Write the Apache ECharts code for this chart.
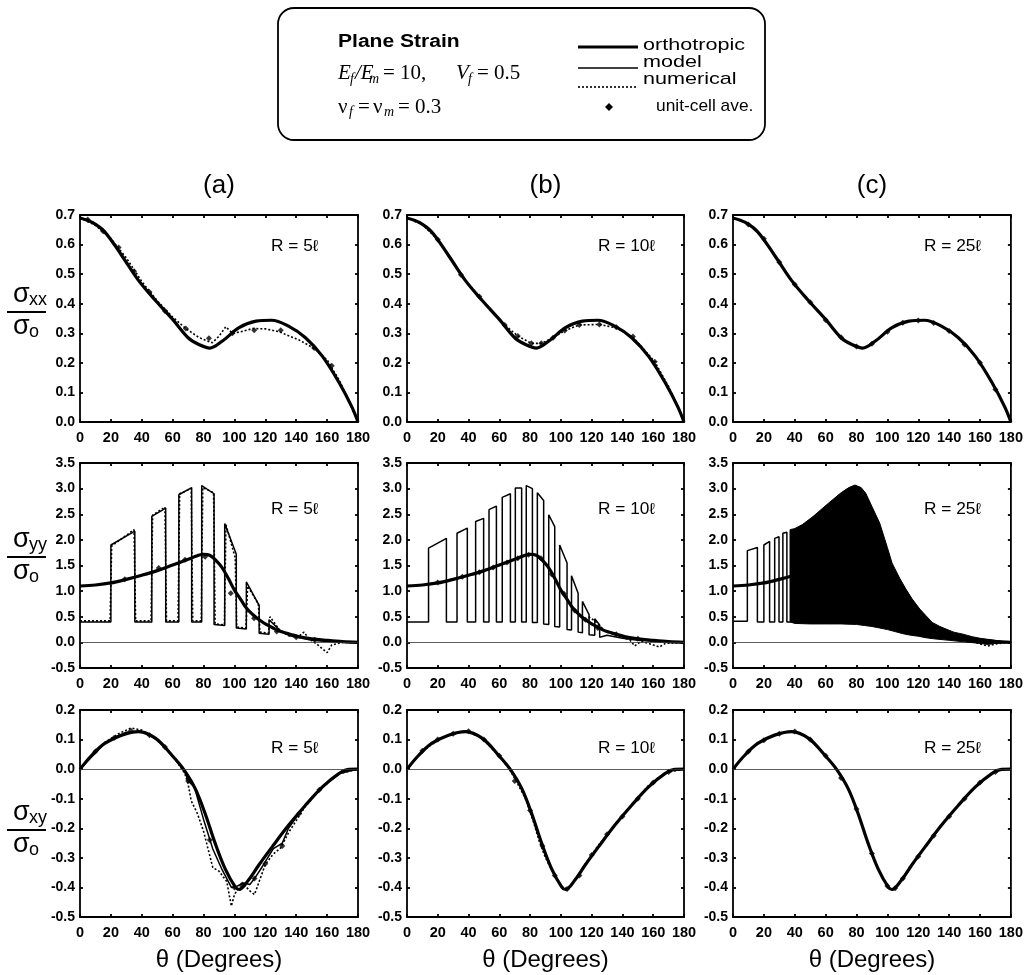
<!DOCTYPE html>
<html><head><meta charset="utf-8">
<script src="https://cdn.jsdelivr.net/npm/echarts@6/dist/echarts.min.js"></script>
<style>html,body{margin:0;padding:0;background:#fff}#c{width:1026px;height:975px}</style>
</head><body><div id="c"></div>
<script>
// ---------------- DATA ----------------
const panelTitles = ['(a)', '(b)', '(c)'];
const radiusLabels = ['R = 5ℓ', 'R = 10ℓ', 'R = 25ℓ'];
const rowNames = [['σ','xx'],['σ','yy'],['σ','xy']];
const xLabel = 'θ (Degrees)';

// orthotropic model (thick line) – same in every column
const orthoXX = [[0,0.69],[8,0.675],[16,0.643],[27,0.563],[38,0.478],[49,0.41],[60,0.347],[70,0.285],[77,0.262],[84,0.25],[92,0.273],[103,0.319],[114,0.341],[124,0.344],[135,0.324],[146,0.285],[157,0.222],[168,0.131],[176,0.051],[180,0.0]];
const orthoYY = [[0,1.10],[10,1.12],[20,1.16],[30,1.23],[40,1.31],[50,1.40],[60,1.51],[70,1.62],[76,1.69],[80,1.72],[84,1.70],[88,1.60],[92,1.46],[96,1.25],[100,1.02],[104,0.84],[108,0.66],[112,0.54],[116,0.44],[120,0.36],[125,0.28],[130,0.21],[136,0.16],[142,0.11],[150,0.07],[160,0.04],[170,0.015],[180,0.0]];
const orthoXY = [[0,0],[7.6,0.047],[16,0.087],[27,0.115],[38,0.127],[49,0.104],[59.5,0.047],[67,0],[74.6,-0.066],[81,-0.15],[87.6,-0.252],[94,-0.337],[100.6,-0.399],[103,-0.407],[109,-0.376],[115.7,-0.325],[124.4,-0.263],[135,-0.19],[146,-0.122],[157,-0.06],[167.6,-0.015],[174,-0.001],[180,0]];

// numerical (dotted)
const numXX_a = [[0,0.69],[10,0.665],[20,0.62],[30,0.555],[40,0.475],[50,0.41],[60,0.355],[68.5,0.316],[77,0.286],[82,0.275],[85.7,0.268],[90,0.29],[94.4,0.322],[98.7,0.30],[104,0.305],[111.7,0.316],[120,0.315],[129,0.305],[142,0.277],[151.6,0.249],[160,0.21],[168,0.14],[175,0.06],[180,0.0]];
const numXX_b = [[0,0.69],[10,0.667],[20,0.617],[35,0.498],[47,0.424],[63.5,0.328],[72,0.291],[80.8,0.266],[87.3,0.266],[94.9,0.285],[102.5,0.309],[112,0.328],[125,0.330],[136,0.318],[146.8,0.287],[161,0.204],[170,0.12],[180,0.0]];
const numYY_a = [[0,0.42],[19.5,0.42],[20.5,1.88],[35,2.2],[36,0.42],[46,0.42],[47,2.48],[55,2.64],[56,0.42],[63.5,0.42],[64.5,2.9],[72,3.0],[73,0.42],[78.5,0.42],[79.5,3.02],[86.5,2.92],[87.5,0.36],[93.5,0.34],[94.5,2.3],[100.5,1.65],[101.5,0.3],[107.5,0.28],[108.5,1.1],[115.5,0.75],[116.5,0.2],[122,0.18],[123,0.5],[129,0.25],[135,0.13],[141,0.1],[145,0.2],[148,0.08],[154,-0.05],[160,-0.2],[163,-0.05],[170,0.0],[180,-0.01]];
const numYY_b = [[118,0.5],[122,0.42],[126,0.3],[130,0.2],[135,0.15],[140,0.1],[145,0.04],[148,-0.07],[152,0.02],[158,-0.03],[164,-0.09],[168,-0.02],[174,-0.01],[180,0]];
const numYY_c = [[140,0.12],[148,0.06],[155,0.02],[160,-0.03],[165,-0.07],[170,-0.03],[175,-0.01],[180,0]];
const numXY_a = [[0,0],[8,0.05],[16,0.09],[25,0.12],[33,0.139],[40,0.132],[50,0.1],[60,0.045],[66,0.0],[68,-0.017],[70,-0.05],[72,-0.107],[76,-0.15],[80,-0.21],[86,-0.333],[90,-0.345],[95,-0.38],[98,-0.463],[100,-0.424],[103,-0.40],[107,-0.395],[110,-0.412],[113,-0.424],[116,-0.38],[120,-0.322],[125,-0.288],[130,-0.266],[135,-0.215],[146,-0.125],[157,-0.06],[168,-0.015],[180,0]];
const numXY_b = [[0,0],[10,0.06],[20,0.098],[30,0.12],[38,0.128],[48,0.108],[58,0.055],[66,0.005],[72,-0.05],[77,-0.1],[82,-0.175],[86,-0.245],[90,-0.3],[95,-0.35],[100,-0.395],[104,-0.405],[110,-0.37],[116,-0.32],[124,-0.26],[135,-0.19],[146,-0.12],[157,-0.055],[168,-0.012],[180,0]];

// model (thin solid line)
const modelYY_a = [[0,0.40],[20,0.40],[20,1.90],[35.5,2.17],[35.5,0.40],[46.5,0.40],[46.5,2.46],[55.5,2.62],[55.5,0.40],[64,0.40],[64,2.88],[72.3,3.02],[72.3,0.40],[78.8,0.40],[78.8,3.06],[86.8,2.90],[86.8,0.35],[93.7,0.33],[93.7,2.32],[101.2,1.72],[101.2,0.28],[107.7,0.26],[107.7,1.18],[116,0.72],[116,0.18],[122.4,0.16],[122.4,0.44],[130,0.22],[136,0.13],[142,0.09],[150,0.04],[158,0.02],[168,0.01],[180,0.0]];
const modelYY_b = [[0,0.40],[14,0.40],[14,1.84],[25.6,2.03],[25.6,0.40],[32.5,0.40],[32.5,2.13],[39.2,2.23],[39.2,0.40],[44.6,0.40],[44.6,2.36],[49.8,2.42],[49.8,0.40],[53.3,0.40],[53.3,2.59],[58.1,2.66],[58.1,0.40],[61.9,0.40],[61.9,2.83],[67.2,2.90],[67.2,0.40],[70.4,0.40],[70.4,3.01],[74.5,3.01],[74.5,0.40],[77.5,0.40],[77.5,3.06],[81.5,3.00],[81.5,0.39],[84.7,0.39],[84.7,2.92],[88.8,2.77],[88.8,0.36],[92.1,0.35],[92.1,2.49],[96,2.26],[96,0.31],[99.2,0.30],[99.2,1.90],[104,1.55],[104,0.25],[106.9,0.24],[106.9,1.30],[111.2,0.96],[111.2,0.20],[114,0.19],[114,0.80],[118.3,0.54],[118.3,0.15],[122,0.14],[122,0.46],[125.2,0.34],[125.2,0.10],[130,0.14],[140,0.08],[150,0.04],[160,0.02],[170,0.01],[180,0.0]];
const modelYY_c = [[0,0.41],[9.3,0.41],[9.3,1.79],[15.8,1.85],[15.8,0.40],[20,0.40],[20,1.90],[23.7,1.97],[23.7,0.40],[27,0.40],[27,2.03],[29.8,2.06],[29.8,0.40],[32.3,0.40],[32.3,2.13],[34.9,2.15],[34.9,0.40],[37.3,0.40],[37.3,2.18]];
// dense fiber/matrix oscillation in (c): upper and lower envelopes
const bandUpperC = [[37,2.2],[40,2.22],[45,2.3],[52,2.46],[62,2.72],[70,2.92],[75,3.02],[79,3.07],[83,3.02],[86,2.91],[90,2.65],[95,2.33],[100,1.85],[103,1.55],[108,1.25],[112,1.04],[116,0.85],[121,0.65],[125,0.52],[129,0.39],[134,0.31],[138,0.26],[143,0.2],[149,0.16],[155,0.11],[160,0.08],[165,0.06],[170,0.04],[175,0.02],[180,0.01]];
const bandLowerC = [[37,0.40],[40,0.37],[50,0.36],[60,0.36],[70,0.36],[80,0.35],[85,0.33],[90,0.31],[95,0.28],[100,0.25],[105,0.21],[110,0.17],[115,0.14],[120,0.12],[125,0.09],[130,0.07],[140,0.04],[150,0.01],[160,-0.02],[165,-0.04],[170,-0.02],[175,-0.01],[180,0.0]];
const modelXY_a = [[0,0],[16,0.088],[30,0.125],[40,0.128],[50,0.1],[60,0.045],[68,-0.01],[70,-0.04],[74,-0.06],[80,-0.17],[86,-0.27],[92,-0.34],[98,-0.40],[102,-0.395],[106,-0.385],[110,-0.39],[113,-0.37],[118,-0.33],[125,-0.27],[131,-0.25],[135,-0.2],[146,-0.12],[157,-0.06],[168,-0.015],[180,0]];

// unit-cell averages (diamonds)
const dXX_a = [[5,0.685],[15,0.645],[25,0.59],[35,0.51],[45,0.44],[55,0.375],[68.5,0.316],[83.5,0.283],[98.7,0.30],[112.8,0.31],[130,0.31],[151.6,0.25],[163,0.19]];
const dXX_b = [[20,0.617],[35,0.498],[47,0.424],[63.5,0.328],[72,0.291],[80.8,0.266],[87.3,0.266],[94.9,0.285],[102.5,0.309],[112,0.328],[125,0.33],[136,0.32],[146.8,0.289],[161,0.204]];
const dXX_c = [[10,0.668],[20,0.62],[30,0.54],[40,0.465],[50,0.405],[60,0.345],[70,0.287],[80,0.255],[90,0.265],[100,0.305],[110,0.336],[120,0.343],[130,0.335],[140,0.308],[150,0.262],[160,0.2],[170,0.11]];
const dYY_a = [[29,1.23],[51,1.45],[68,1.61],[81,1.67],[97.6,0.96],[112.7,0.47],[127.4,0.21],[140,0.1],[152,0.05]];
const dYY_b = [[20,1.17],[36,1.28],[47,1.37],[56,1.46],[65,1.56],[72,1.64],[79,1.71],[87,1.64],[94,1.33],[102,0.95],[109,0.62],[116,0.44],[124,0.28],[136,0.16],[150,0.07]];
const dXY_a = [[10,0.06],[22,0.105],[33,0.13],[45,0.115],[55,0.075],[70,-0.04],[84,-0.24],[100,-0.40],[105,-0.39],[113,-0.37],[120,-0.32],[131,-0.26],[142,-0.15],[155,-0.07]];
const dXY_b = [[10,0.062],[20,0.1],[30,0.12],[40,0.128],[50,0.1],[60,0.045],[70,-0.04],[80,-0.14],[88,-0.26],[96,-0.36],[104,-0.405],[112,-0.36],[120,-0.29],[130,-0.22],[140,-0.16],[150,-0.1],[160,-0.045],[170,-0.01]];
const dXY_c = [[10,0.06],[20,0.098],[30,0.12],[40,0.127],[50,0.1],[60,0.045],[70,-0.03],[80,-0.135],[90,-0.285],[100,-0.395],[105,-0.403],[110,-0.37],[120,-0.295],[130,-0.225],[140,-0.16],[150,-0.1],[160,-0.045],[170,-0.01]];

// ---------------- LAYOUT ----------------
const colLeft = [80, 407, 733], colW = [278, 277, 278];
const rowTop = [215, 463, 710], rowH = [207, 205, 207];
const yScale = [{min:0,max:0.7,interval:0.1},{min:-0.5,max:3.5,interval:0.5},{min:-0.5,max:0.2,interval:0.1}];
const FONT = 'Liberation Sans, Arial, sans-serif';
const SERIF = 'Liberation Serif, Times New Roman, serif';

const grid = [], xAxis = [], yAxis = [], series = [];
for (let r = 0; r < 3; r++) for (let c = 0; c < 3; c++) {
  const gi = r*3 + c;
  grid.push({left: colLeft[c], top: rowTop[r], width: colW[c], height: rowH[r], show: true, borderColor: '#000', borderWidth: 1.8, backgroundColor: 'transparent'});
  const tick = {show: true, inside: true, length: 3, lineStyle: {color: '#000', width: 1.8}};
  const noLine = {show: false, onZero: false};
  xAxis.push({gridIndex: gi, type: 'value', position: 'bottom', min: 0, max: 180, interval: 20, axisLine: noLine, axisTick: tick, splitLine: {show: false},
    axisLabel: {color: '#000', fontSize: 14.5, fontWeight: 'bold', fontFamily: FONT, margin: 8}});
  xAxis.push({gridIndex: gi, type: 'value', position: 'top', min: 0, max: 180, interval: 20, axisLine: noLine, axisTick: tick, splitLine: {show: false}, axisLabel: {show: false}});
  yAxis.push(Object.assign({gridIndex: gi, type: 'value', position: 'left', axisLine: noLine, axisTick: tick, splitLine: {show: false},
    axisLabel: {color: '#000', fontSize: 14, fontWeight: 'bold', fontFamily: FONT, margin: 5, formatter: v => v.toFixed(1)}}, yScale[r]));
  yAxis.push(Object.assign({gridIndex: gi, type: 'value', position: 'right', axisLine: noLine, axisTick: tick, splitLine: {show: false}, axisLabel: {show: false}}, yScale[r]));
}
function ax(gi) { return {xAxisIndex: gi*2, yAxisIndex: gi*2}; }
function ortho(gi, data, zero) {
  const s = Object.assign({type: 'line', data, smooth: 0.35, showSymbol: false, silent: true, z: 3,
    lineStyle: {color: '#000', width: 3.2}}, ax(gi));
  if (zero) s.markLine = {silent: true, symbol: 'none', label: {show: false}, lineStyle: {color: '#333', width: 0.8, type: 'solid'}, data: [{yAxis: 0}]};
  series.push(s);
}
function model(gi, data) {
  series.push(Object.assign({type: 'line', data, showSymbol: false, silent: true, z: 4, lineStyle: {color: '#000', width: 1.5}}, ax(gi)));
}
function numer(gi, data) {
  series.push(Object.assign({type: 'line', data, showSymbol: false, silent: true, z: 4, lineStyle: {color: '#000', width: 1.6, type: [2, 2]}}, ax(gi)));
}
function dia(gi, data) {
  series.push(Object.assign({type: 'scatter', data, symbol: 'diamond', symbolSize: 6, silent: true, z: 5, itemStyle: {color: '#000'}}, ax(gi)));
}
function band(gi, upper, lower) {
  series.push(Object.assign({type: 'custom', data: [[0, 0]], silent: true, z: 5,
    renderItem: (params, api) => {
      const pts = upper.map(p => api.coord(p)).concat(lower.slice().reverse().map(p => api.coord(p)));
      return {type: 'polygon', shape: {points: pts}, style: {fill: '#000', stroke: '#000', lineWidth: 1}};
    }}, ax(gi)));
}
// row 1: sigma_xx
ortho(0, orthoXX); numer(0, numXX_a); dia(0, dXX_a);
ortho(1, orthoXX); numer(1, numXX_b); dia(1, dXX_b);
ortho(2, orthoXX); dia(2, dXX_c);
// row 2: sigma_yy
ortho(3, orthoYY, true); model(3, modelYY_a); numer(3, numYY_a); dia(3, dYY_a);
ortho(4, orthoYY, true); model(4, modelYY_b); numer(4, numYY_b); dia(4, dYY_b);
ortho(5, orthoYY, true); model(5, modelYY_c); band(5, bandUpperC, bandLowerC); numer(5, numYY_c);
// row 3: sigma_xy
ortho(6, orthoXY, true); model(6, modelXY_a); numer(6, numXY_a); dia(6, dXY_a);
ortho(7, orthoXY, true); numer(7, numXY_b); dia(7, dXY_b);
ortho(8, orthoXY, true); dia(8, dXY_c);

// ---------------- TEXT / LEGEND (graphic) ----------------
const g = [];
function txt(x, y, text, font, opt) {
  opt = opt || {};
  g.push({type: 'text', x, y, scaleX: opt.sx || 1, silent: true, z: 10,
    style: {text, fill: '#000', font, align: opt.align || 'left', verticalAlign: opt.va || 'middle'}});
}
function hline(x1, x2, y, w, dash) {
  g.push({type: 'line', silent: true, z: 10, shape: {x1, y1: y, x2, y2: y}, style: {stroke: '#000', lineWidth: w, lineDash: dash || null}});
}
// column titles, x-axis names, R labels
for (let c = 0; c < 3; c++) {
  const cx = colLeft[c] + colW[c] / 2;
  txt(cx, 186, panelTitles[c], '26px ' + FONT, {align: 'center'});
  txt(cx, 960, xLabel, '24px ' + FONT, {align: 'center'});
  for (let r = 0; r < 3; r++) {
    const ry = [247, 510, 749][r];
    txt(colLeft[c] + 191, ry, radiusLabels[c], '16px ' + FONT, {sx: 1.08});
  }
}
// y-axis fraction labels (column a)
const fracY = [312, 557, 830];
for (let r = 0; r < 3; r++) {
  const ly = fracY[r];
  txt(13, ly - 17, rowNames[r][0], '27px ' + FONT);
  txt(29, ly - 12, rowNames[r][1], '18px ' + FONT);
  hline(7, 46, ly, 1.8);
  txt(13, ly + 15, 'σ', '27px ' + FONT);
  txt(29, ly + 20, 'o', '18px ' + FONT);
}
// legend box
g.push({type: 'rect', silent: true, z: 9, shape: {x: 278, y: 8, width: 487, height: 132, r: 16}, style: {fill: '#fff', stroke: '#000', lineWidth: 1.8}});
txt(338, 42, 'Plane Strain', 'bold 18px ' + FONT, {sx: 1.17});
// E_f/E_m = 10,   V_f = 0.5
const it = 'italic 21px ' + SERIF, sub = 'italic 14px ' + SERIF, rm = '21px ' + SERIF;
txt(338, 73, 'E', it); txt(350, 79, 'f', sub);
txt(355, 73, '/E', it); txt(369, 79, 'm', sub);
txt(383, 73, '= 10,', rm);
txt(456, 73, 'V', it); txt(468, 79, 'f', sub);
txt(477, 73, '= 0.5', rm);
// nu_f = nu_m = 0.3
txt(338, 107, 'ν', rm); txt(349, 112, 'f', sub);
txt(358, 107, '=', rm);
txt(373, 107, 'ν', rm); txt(384, 112, 'm', sub);
txt(398, 107, '= 0.3', rm);
// legend keys
hline(578, 638, 47, 3.2);
hline(578, 638, 68, 1.5);
hline(578, 638, 87, 1.6, [2, 2]);
g.push({type: 'polygon', silent: true, z: 10, shape: {points: [[609, 103], [613, 107], [609, 111], [605, 107]]}, style: {fill: '#000'}});
const lf = '17px ' + FONT;
txt(643, 45, 'orthotropic', lf, {sx: 1.27});
txt(643, 62, 'model', lf, {sx: 1.27});
txt(643, 79, 'numerical', lf, {sx: 1.27});
txt(656, 106, 'unit-cell ave.', lf, {sx: 1.02});

const chart = echarts.init(document.getElementById('c'), null, {renderer: 'canvas'});
chart.setOption({animation: false, backgroundColor: '#fff', grid, xAxis, yAxis, series, graphic: {elements: g}});
</script></body></html>
